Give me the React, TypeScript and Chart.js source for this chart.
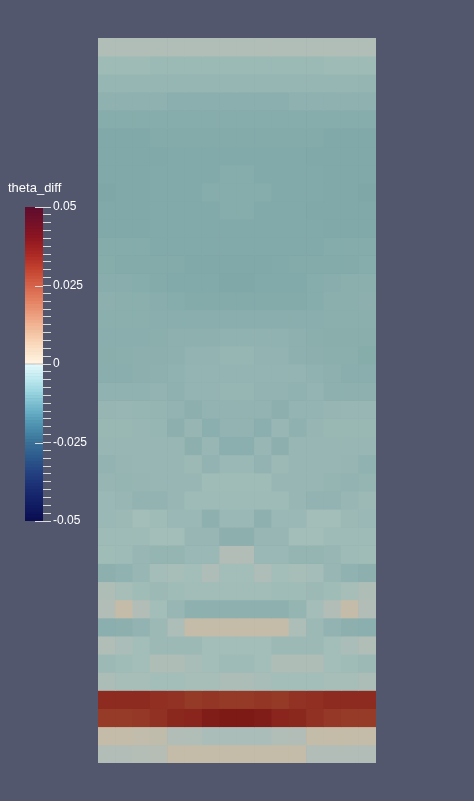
import React, { useEffect, useRef } from 'react';
import { Chart, registerables } from 'chart.js';

Chart.register(...registerables);

// ---- data -------------------------------------------------------------
const scalarName = 'theta_diff';
const columns = ['1', '2', '3', '4', '5', '6', '7', '8', '9', '10', '11', '12', '13', '14', '15', '16'];

const row00 = [-0.0003, -0.0003, -0.0003, -0.0003, -0.0003, -0.0003, -0.0003, -0.0003, -0.0003, -0.0003, -0.0003, -0.0003, -0.0003, -0.0003, -0.0003, -0.0003];
const row01 = [-0.0028, -0.0028, -0.0028, -0.0035, -0.0035, -0.0035, -0.0035, -0.0035, -0.0035, -0.0035, -0.0035, -0.0035, -0.0035, -0.0028, -0.0028, -0.0028];
const row02 = [-0.0045, -0.0045, -0.0045, -0.0045, -0.0045, -0.0045, -0.0045, -0.0045, -0.0045, -0.0045, -0.0045, -0.0045, -0.0045, -0.0045, -0.0045, -0.0046];
const row03 = [-0.006, -0.006, -0.006, -0.006, -0.0068, -0.0068, -0.0068, -0.0068, -0.0068, -0.0068, -0.0068, -0.006, -0.006, -0.006, -0.006, -0.006];
const row04 = [-0.008, -0.008, -0.008, -0.008, -0.008, -0.008, -0.008, -0.008, -0.008, -0.008, -0.008, -0.008, -0.008, -0.008, -0.008, -0.008];
const row05 = [-0.0095, -0.0095, -0.0095, -0.0085, -0.0085, -0.0085, -0.0085, -0.0085, -0.0085, -0.0085, -0.0085, -0.0085, -0.0085, -0.0095, -0.0095, -0.0095];
const row06 = [-0.0095, -0.0095, -0.0095, -0.0095, -0.009, -0.009, -0.009, -0.009, -0.009, -0.009, -0.009, -0.009, -0.0095, -0.0095, -0.0095, -0.0095];
const row07 = [-0.0095, -0.0095, -0.0095, -0.009, -0.009, -0.009, -0.009, -0.008, -0.008, -0.009, -0.009, -0.009, -0.009, -0.0095, -0.0095, -0.0095];
const row08 = [-0.0102, -0.0095, -0.0095, -0.009, -0.009, -0.009, -0.008, -0.008, -0.008, -0.008, -0.009, -0.009, -0.009, -0.0095, -0.0095, -0.0102];
const row09 = [-0.0095, -0.0095, -0.0095, -0.009, -0.009, -0.009, -0.009, -0.008, -0.008, -0.009, -0.009, -0.009, -0.0095, -0.0095, -0.0095, -0.0095];
const row10 = [-0.0095, -0.0095, -0.0095, -0.009, -0.009, -0.009, -0.009, -0.009, -0.009, -0.009, -0.009, -0.009, -0.009, -0.0095, -0.0095, -0.0095];
const row11 = [-0.0082, -0.0082, -0.0082, -0.009, -0.009, -0.009, -0.009, -0.009, -0.009, -0.009, -0.009, -0.009, -0.009, -0.0082, -0.0082, -0.0082];
const row12 = [-0.0078, -0.0085, -0.0085, -0.0085, -0.0085, -0.0095, -0.0095, -0.0095, -0.0095, -0.0095, -0.009, -0.0085, -0.0085, -0.0085, -0.0085, -0.008];
const row13 = [-0.0075, -0.0075, -0.008, -0.0085, -0.009, -0.009, -0.009, -0.0098, -0.0098, -0.009, -0.009, -0.009, -0.008, -0.0075, -0.007, -0.007];
const row14 = [-0.0065, -0.007, -0.007, -0.0075, -0.008, -0.0085, -0.0085, -0.0085, -0.0085, -0.0085, -0.0085, -0.0085, -0.008, -0.007, -0.007, -0.0065];
const row15 = [-0.007, -0.007, -0.007, -0.0073, -0.0073, -0.0073, -0.0073, -0.0073, -0.0073, -0.0073, -0.0073, -0.0073, -0.0073, -0.007, -0.007, -0.007];
const row16 = [-0.0072, -0.0072, -0.0072, -0.007, -0.0062, -0.0062, -0.0062, -0.0058, -0.0058, -0.0058, -0.0058, -0.0062, -0.007, -0.0074, -0.0074, -0.0074];
const row17 = [-0.0074, -0.007, -0.0065, -0.0065, -0.0062, -0.0053, -0.0053, -0.0045, -0.0045, -0.0053, -0.0053, -0.0062, -0.0065, -0.007, -0.007, -0.0078];
const row18 = [-0.0072, -0.0072, -0.0065, -0.0062, -0.0058, -0.0051, -0.0051, -0.0051, -0.0051, -0.0051, -0.0051, -0.0051, -0.0058, -0.0062, -0.0072, -0.0072];
const row19 = [-0.0058, -0.0058, -0.0058, -0.0053, -0.006, -0.005, -0.005, -0.0045, -0.0045, -0.0053, -0.0053, -0.0058, -0.0051, -0.0062, -0.0062, -0.0062];
const row20 = [-0.0043, -0.0041, -0.0045, -0.0048, -0.0053, -0.0064, -0.0053, -0.0053, -0.0053, -0.0053, -0.0064, -0.0051, -0.0051, -0.0043, -0.0041, -0.0041];
const row21 = [-0.0038, -0.0038, -0.004, -0.0045, -0.0064, -0.0043, -0.0068, -0.0053, -0.0053, -0.0068, -0.004, -0.006, -0.0043, -0.0038, -0.0038, -0.0038];
const row22 = [-0.004, -0.004, -0.004, -0.004, -0.004, -0.0064, -0.004, -0.0068, -0.0068, -0.004, -0.0064, -0.004, -0.004, -0.004, -0.004, -0.004];
const row23 = [-0.0053, -0.0043, -0.004, -0.004, -0.004, -0.0032, -0.0053, -0.0036, -0.0036, -0.0053, -0.0032, -0.004, -0.004, -0.004, -0.0043, -0.0058];
const row24 = [-0.0043, -0.0048, -0.0043, -0.004, -0.004, -0.004, -0.0025, -0.0025, -0.0025, -0.0025, -0.004, -0.004, -0.004, -0.0048, -0.0053, -0.0048];
const row25 = [-0.0036, -0.004, -0.0053, -0.0053, -0.004, -0.0027, -0.0027, -0.0027, -0.0027, -0.0027, -0.0027, -0.004, -0.0053, -0.0053, -0.004, -0.0032];
const row26 = [-0.0036, -0.0032, -0.002, -0.0025, -0.0036, -0.0036, -0.0062, -0.0036, -0.0036, -0.0062, -0.0036, -0.0036, -0.002, -0.002, -0.0032, -0.0036];
const row27 = [-0.0027, -0.0027, -0.0027, -0.002, -0.002, -0.004, -0.004, -0.0065, -0.0065, -0.004, -0.004, -0.002, -0.002, -0.0027, -0.0027, -0.0027];
const row28 = [-0.0025, -0.0027, -0.004, -0.0048, -0.0048, -0.0036, -0.0036, 0, 0, -0.0036, -0.0036, -0.0048, -0.0048, -0.004, -0.0027, -0.0025];
const row29 = [-0.0064, -0.0058, -0.004, -0.0018, -0.0015, -0.002, -0.0006, -0.002, -0.002, -0.0006, -0.002, -0.0015, -0.0018, -0.004, -0.0058, -0.0064];
const row30 = [-0.0005, -0.0015, -0.0025, -0.0032, -0.0025, -0.0022, -0.0022, -0.0022, -0.0022, -0.0022, -0.0025, -0.0025, -0.0032, -0.0025, -0.0015, -0.0005];
const row31 = [0, 0.006, 0, -0.002, -0.004, -0.0062, -0.0062, -0.0062, -0.0062, -0.0062, -0.0062, -0.0048, -0.0018, 0, 0.006, 0];
const row32 = [-0.0068, -0.0064, -0.0053, -0.0032, -0.0008, 0.006, 0.006, 0.006, 0.006, 0.006, 0.006, -0.0008, -0.0032, -0.0053, -0.0064, -0.0068];
const row33 = [-0.0003, -0.001, -0.002, -0.0032, -0.0032, -0.0032, -0.002, -0.002, -0.002, -0.002, -0.0032, -0.0032, -0.0032, -0.002, -0.001, -0.0003];
const row34 = [-0.0032, -0.0025, -0.002, -0.0005, -0.0005, -0.0012, -0.002, -0.0027, -0.0027, -0.002, -0.0005, -0.0005, -0.0005, -0.002, -0.0025, -0.0032];
const row35 = [-0.0009, -0.0015, -0.0015, -0.002, -0.002, -0.0015, -0.0015, -0.0009, -0.0009, -0.0012, -0.002, -0.002, -0.002, -0.0015, -0.0015, -0.0009];
const row36 = [0.03, 0.03, 0.03, 0.029, 0.028, 0.026, 0.027, 0.026, 0.026, 0.027, 0.026, 0.028, 0.029, 0.03, 0.03, 0.03];
const row37 = [0.0258, 0.0258, 0.0265, 0.0285, 0.031, 0.032, 0.035, 0.036, 0.036, 0.035, 0.032, 0.031, 0.0285, 0.0265, 0.0258, 0.0258];
const row38 = [0.006, 0.006, 0.005, 0.0045, 0, -0.0003, -0.001, -0.001, -0.001, -0.001, -0.0003, 0, 0.0055, 0.006, 0.006, 0.006];
const row39 = [0, 0, 0.0003, 0.0008, 0.006, 0.006, 0.006, 0.006, 0.006, 0.006, 0.006, 0.006, 0, 0, 0, 0];

const rows = [
  row00, row01, row02, row03, row04, row05, row06, row07, row08, row09,
  row10, row11, row12, row13, row14, row15, row16, row17, row18, row19,
  row20, row21, row22, row23, row24, row25, row26, row27, row28, row29,
  row30, row31, row32, row33, row34, row35, row36, row37, row38, row39,
];

// colour bar range and ticks
const cbarMin = -0.05;
const cbarMax = 0.05;
const cbarMinorStep = 0.0025;
const cbarLabelStep = 0.025;

// ---- colour maps --------------------------------------------------------
// colour legend (lookup table)
const lutValues = [-0.05, -0.045, -0.04, -0.035, -0.03, -0.025, -0.02, -0.015, -0.01, -0.005, -0.0001, 0.0001, 0.005, 0.01, 0.015, 0.02, 0.025, 0.03, 0.035, 0.04, 0.045, 0.05];
const lutColors = ['#0b0c50', '#111c62', '#1a2c72', '#234080', '#2c588c', '#3a7298', '#4c90ae', '#6ab0c6', '#92cfdc', '#bde9ef', '#e4f9fb', '#fff4e2', '#fbdfc4', '#f4c3a2', '#eda282', '#e48262', '#d6624a', '#c3432f', '#ab2824', '#8e1620', '#731028', '#5e0c2e'];
// shaded surface colours as they appear on the lit slab
const surfValues = [-0.011, -0.008, -0.005, -0.002, 0, 0.006, 0.02, 0.026, 0.03, 0.036];
const surfColors = ['#7ca5a7', '#86acab', '#93b4b2', '#a3bdb8', '#b3bdb7', '#c4bca8', '#a24c36', '#963a28', '#8e2b20', '#7e1a16'];

function hexToRgb(h: string): number[] {
  const n = parseInt(h.slice(1), 16);
  return [(n >> 16) & 255, (n >> 8) & 255, n & 255];
}

function mapColor(stops: number[], colors: string[], v: number): string {
  let c: number[];
  if (v <= stops[0]) c = hexToRgb(colors[0]);
  else if (v >= stops[stops.length - 1]) c = hexToRgb(colors[colors.length - 1]);
  else {
    let i = 0;
    while (i < stops.length - 2 && v > stops[i + 1]) i++;
    const t = (v - stops[i]) / (stops[i + 1] - stops[i]);
    const a = hexToRgb(colors[i]);
    const b = hexToRgb(colors[i + 1]);
    c = [0, 1, 2].map((k) => Math.round(a[k] + (b[k] - a[k]) * t));
  }
  return `rgb(${c[0]},${c[1]},${c[2]})`;
}

const FONT = "'Liberation Sans', Arial, sans-serif";

const colorbarDecor = {
  id: 'colorbarDecor',
  afterDraw(chart: any) {
    const { ctx, chartArea } = chart;
    const y = chart.scales.y;
    ctx.save();
    // major marks reaching into the bar
    ctx.strokeStyle = '#dcdcdc';
    ctx.lineWidth = 1;
    for (let v = cbarMin; v <= cbarMax + 1e-9; v += cbarLabelStep) {
      const py = Math.round(y.getPixelForValue(v)) + 0.5;
      ctx.beginPath();
      ctx.moveTo(chartArea.right - 8, py);
      ctx.lineTo(chartArea.right, py);
      ctx.stroke();
    }
    // scalar name
    ctx.fillStyle = '#ffffff';
    ctx.font = `13px ${FONT}`;
    ctx.textBaseline = 'alphabetic';
    ctx.textAlign = 'left';
    ctx.fillText(scalarName, 8, 192);
    ctx.restore();
  },
};

export default function App() {
  const mapRef = useRef<HTMLCanvasElement | null>(null);
  const barRef = useRef<HTMLCanvasElement | null>(null);

  useEffect(() => {
    const heat = new Chart(mapRef.current as HTMLCanvasElement, {
      type: 'bar',
      data: {
        labels: columns,
        datasets: rows.map((row, r) => ({
          label: `row ${r}`,
          data: row.map(() => [r, r + 1]) as any,
          backgroundColor: row.map((v) => mapColor(surfValues, surfColors, v)),
          borderWidth: 0,
          grouped: false,
          barPercentage: 1,
          categoryPercentage: 1,
        })),
      },
      options: {
        animation: false,
        responsive: false,
        events: [],
        layout: { padding: { left: 98, right: 98, top: 38, bottom: 38 } },
        plugins: { legend: { display: false }, tooltip: { enabled: false }, title: { display: false } },
        scales: {
          x: { display: false },
          y: { display: false, min: 0, max: rows.length, reverse: true },
        },
      },
    });

    const nBands = 100;
    const bands = Array.from({ length: nBands }, (_, i) => {
      const lo = cbarMin + ((cbarMax - cbarMin) * i) / nBands;
      const hi = cbarMin + ((cbarMax - cbarMin) * (i + 1)) / nBands;
      return [lo, hi];
    });

    const bar = new Chart(barRef.current as HTMLCanvasElement, {
      type: 'bar',
      data: {
        labels: [scalarName],
        datasets: bands.map((b) => ({
          data: [b] as any,
          backgroundColor: mapColor(lutValues, lutColors, (b[0] + b[1]) / 2),
          borderWidth: 0,
          grouped: false,
          barPercentage: 1,
          categoryPercentage: 1,
        })),
      },
      options: {
        animation: false,
        responsive: false,
        events: [],
        layout: { padding: { left: 25, right: 17, top: 207, bottom: 280 } },
        plugins: { legend: { display: false }, tooltip: { enabled: false }, title: { display: false } },
        scales: {
          x: { display: false },
          y: {
            position: 'right',
            min: cbarMin,
            max: cbarMax,
            afterFit: (s: any) => {
              s.width = 60;
            },
            grid: { drawOnChartArea: false, drawTicks: true, tickLength: 8, color: '#dcdcdc', lineWidth: 1 },
            border: { display: false },
            ticks: {
              stepSize: cbarMinorStep,
              autoSkip: false,
              color: '#ffffff',
              padding: 2,
              font: { family: FONT, size: 12 },
              callback: (value: any) => {
                const v = Math.round(Number(value) * 10000) / 10000;
                const k = v / cbarLabelStep;
                if (Math.abs(k - Math.round(k)) < 1e-6) return v === 0 ? '0' : String(v);
                return '';
              },
            },
          },
        },
      },
      plugins: [colorbarDecor],
    });

    return () => {
      heat.destroy();
      bar.destroy();
    };
  }, []);

  return (
    <div style={{ position: 'absolute', left: 0, top: 0, width: 474, height: 801, background: '#52576e', overflow: 'hidden' }}>
      <canvas ref={mapRef} width={474} height={801} style={{ position: 'absolute', left: 0, top: 0, width: 474, height: 801 }} />
      <canvas ref={barRef} width={120} height={801} style={{ position: 'absolute', left: 0, top: 0, width: 120, height: 801 }} />
    </div>
  );
}
